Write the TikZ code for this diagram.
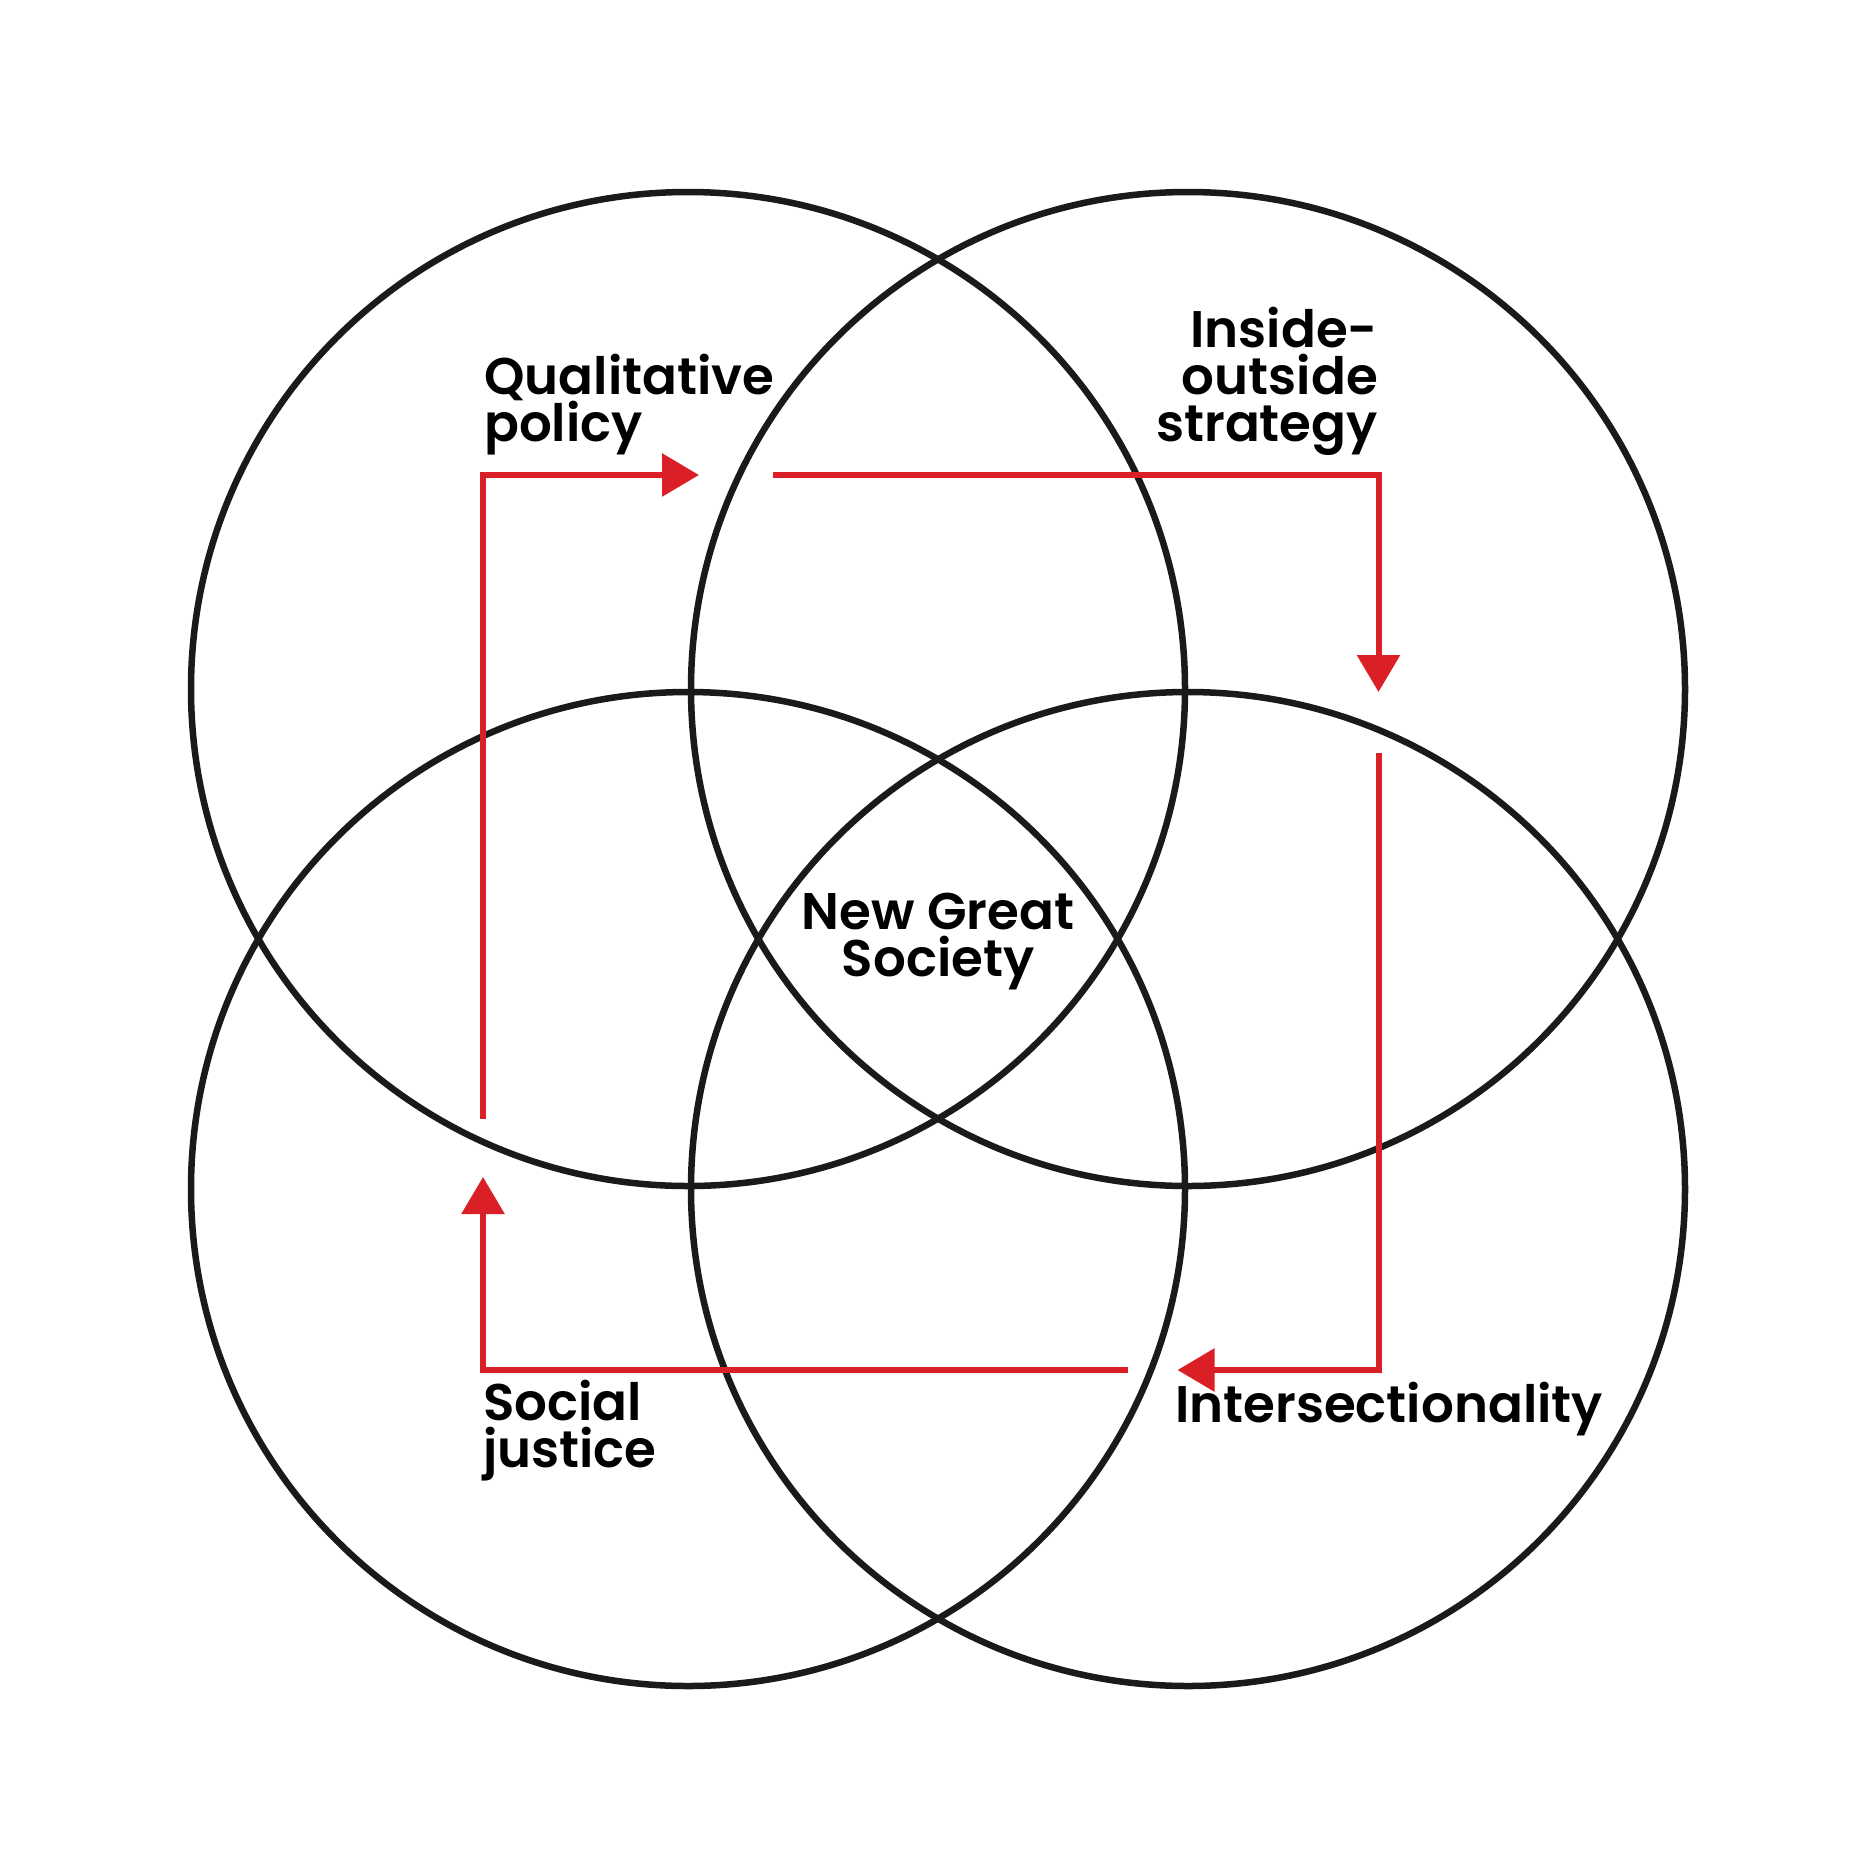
\documentclass[tikz,border=0pt]{standalone}
\usepackage{fontspec}
\setmainfont{Poppins}[BoldFont={Poppins SemiBold}]
\usetikzlibrary{arrows.meta}
\definecolor{ink}{HTML}{1A1A1A}
\definecolor{flowred}{HTML}{DA1F26}
\begin{document}
\begin{tikzpicture}[x=1pt,y=-1pt,
  ring/.style={circle,draw=ink,line width=6.5pt,minimum size=994pt,inner sep=0pt},
  flow/.style={draw=flowred,line width=6pt,line join=miter,-{Triangle[length=37pt,width=42pt]}},
  lbl/.style={font=\fontsize{51.5}{47}\selectfont\bfseries,text=black,inner sep=0pt}]
\useasboundingbox (0,0) rectangle (1875,1875);
% circles
\node[ring] (tl) at (688,689) {};
\node[ring] (tr) at (1188,689) {};
\node[ring] (bl) at (688,1189) {};
\node[ring] (br) at (1188,1189) {};
% flow coordinates
\coordinate (a1) at (483,1119);
\coordinate (a2) at (483,475);
\coordinate (a3) at (699,475);
\coordinate (b1) at (773,475);
\coordinate (b2) at (1378.5,475);
\coordinate (b3) at (1378.5,692);
\coordinate (c1) at (1378.5,753);
\coordinate (c2) at (1378.5,1370);
\coordinate (c3) at (1177.5,1370);
\coordinate (d1) at (1127.5,1370);
\coordinate (d2) at (483,1370);
\coordinate (d3) at (483,1177);
\draw[flow] (a1) -- (a2) -- (a3);
\draw[flow] (b1) -- (b2) -- (b3);
\draw[flow] (c1) -- (c2) -- (c3);
\draw[flow] (d1) -- (d2) -- (d3);
% labels (base anchor = baseline of last line)
\node[lbl,anchor=base west,align=left] (qp) at (484,441.5) {Qualitative\\policy};
\node[lbl,anchor=base east,align=right] (io) at (1378,441) {Inside-\\outside\\strategy};
\node[lbl,anchor=base,align=center] (ngs) at (938,976) {New Great\\Society};
\node[lbl,anchor=base west,align=left] (sj) at (483,1467) {Social\\justice};
\node[lbl,anchor=base west] (is) at (1175,1422) {Intersectionality};
\end{tikzpicture}
\end{document}
